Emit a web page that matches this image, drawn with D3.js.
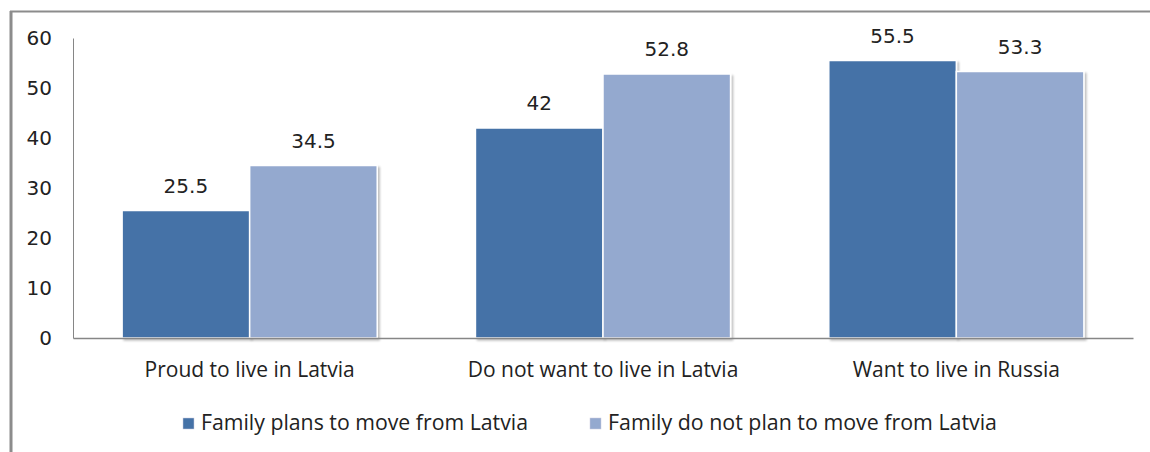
<!DOCTYPE html>
<html>
<head>
<meta charset="utf-8">
<script src="https://cdn.jsdelivr.net/npm/d3@7"></script>
<style>
  html, body { margin: 0; padding: 0; background: #fff; }
  svg { display: block; }
  text { font-family: "Open Sans", "DejaVu Sans", sans-serif; fill: #222; }
</style>
</head>
<body>
<svg id="chart" width="1150" height="452"></svg>
<script>
// Attitudes by family migration plans (%)
const categories = ["Proud to live in Latvia", "Do not want to live in Latvia", "Want to live in Russia"];
const seriesNames = ["Family plans to move from Latvia", "Family do not plan to move from Latvia"];
const plansToMove = [25.5, 42, 55.5];
const notPlanToMove = [34.5, 52.8, 53.3];
const yTicks = [0, 10, 20, 30, 40, 50, 60];

const seriesValues = [plansToMove, notPlanToMove];
const colors = ["#4572A7", "#94A9CF"];

const svg = d3.select("#chart");
const W = 1150, H = 452;
const plot = { left: 73, right: 1133, top: 38, bottom: 338 };

// outer frame (top and left edges)
svg.append("line").attr("x1", 10).attr("x2", W).attr("y1", 11.5).attr("y2", 11.5)
  .attr("stroke", "#8c8c8c").attr("stroke-width", 2);
svg.append("line").attr("x1", 11).attr("x2", 11).attr("y1", 11).attr("y2", H)
  .attr("stroke", "#8c8c8c").attr("stroke-width", 3);

const y = d3.scaleLinear().domain([0, 60]).range([plot.bottom, plot.top]);
const x0 = d3.scaleBand().domain(categories).range([plot.left, plot.right])
  .paddingInner(0.278).paddingOuter(0.139);
const x1 = d3.scaleBand().domain(seriesNames).range([0, x0.bandwidth()]).padding(0);

// soft drop shadow for the bars
const defs = svg.append("defs");
const f = defs.append("filter").attr("id", "shadow").attr("x", "-10%").attr("y", "-10%")
  .attr("width", "130%").attr("height", "130%");
f.append("feGaussianBlur").attr("in", "SourceAlpha").attr("stdDeviation", 1.2).attr("result", "b");
f.append("feOffset").attr("in", "b").attr("dx", 2).attr("dy", 2).attr("result", "o");
f.append("feComponentTransfer").attr("in", "o").attr("result", "s")
  .append("feFuncA").attr("type", "linear").attr("slope", 0.25);
const m = f.append("feMerge");
m.append("feMergeNode").attr("in", "s");
m.append("feMergeNode").attr("in", "SourceGraphic");

// y axis
const yAxis = d3.axisLeft(y).tickValues(yTicks).tickSize(0).tickPadding(21);
const gy = svg.append("g").attr("transform", `translate(${plot.left},0)`).call(yAxis);
gy.attr("font-size", null).attr("font-family", null);
gy.select(".domain").attr("stroke", "#868686").attr("stroke-width", 1);
gy.selectAll("text")
  .style("font-size", "20px").style("fill", "#222")
  .style("font-family", "'DejaVu Sans', sans-serif");

// bars
const groups = svg.append("g").selectAll("g").data(categories).join("g")
  .attr("transform", d => `translate(${x0(d)},0)`);

seriesNames.forEach((s, si) => {
  groups.append("rect")
    .attr("x", x1(s))
    .attr("y", (d, i) => y(seriesValues[si][i]))
    .attr("width", x1.bandwidth())
    .attr("height", (d, i) => y(0) - y(seriesValues[si][i]))
    .attr("fill", colors[si])
    .attr("stroke", "#fff").attr("stroke-width", 1.5)
    .attr("filter", "url(#shadow)");
  groups.append("text")
    .attr("x", x1(s) + x1.bandwidth() / 2)
    .attr("y", (d, i) => y(seriesValues[si][i]) - 18)
    .attr("text-anchor", "middle")
    .style("font-size", "20px")
    .style("font-family", "'DejaVu Sans', sans-serif")
    .text((d, i) => seriesValues[si][i]);
});

// x axis
const xAxis = d3.axisBottom(x0).tickSize(0);
const gx = svg.append("g").attr("transform", `translate(0,${plot.bottom})`).call(xAxis);
gx.attr("font-size", null).attr("font-family", null);
gx.select(".domain").attr("stroke", "#868686").attr("stroke-width", 1.5);
gx.selectAll("text")
  .attr("y", 39).attr("dy", 0)
  .style("font-size", "21px").style("fill", "#222")
  .style("font-family", "'Open Sans', sans-serif");

// legend
const legendX = [183, 590];
const legendWidths = [327, 389];
const legend = svg.append("g").selectAll("g").data(seriesNames).join("g")
  .attr("transform", (d, i) => `translate(${legendX[i]},418)`);
legend.append("rect").attr("width", 11).attr("height", 11)
  .attr("fill", (d, i) => colors[i]).attr("stroke", "#ccd").attr("stroke-width", 0.5);
legend.append("text").attr("x", 18).attr("y", 12)
  .style("font-size", "21px")
  .style("font-family", "'Open Sans', sans-serif")
  .attr("textLength", (d, i) => legendWidths[i])
  .attr("lengthAdjust", "spacingAndGlyphs")
  .text(d => d);
</script>
</body>
</html>
